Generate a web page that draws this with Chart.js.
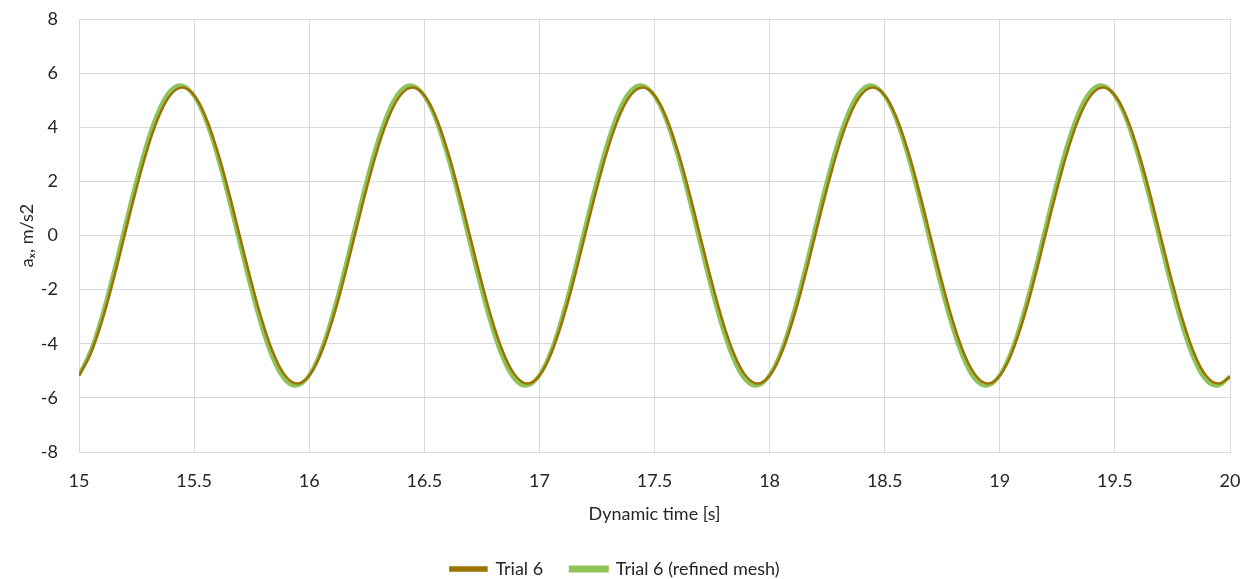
<!DOCTYPE html>
<html>
<head>
<meta charset="utf-8">
<script src="https://cdn.jsdelivr.net/npm/chart.js@4"></script>
<style>
    html, body { margin: 0; padding: 0; background: #ffffff; }
    #wrap { width: 1252px; height: 579px; }
</style>
</head>
<body>
<div id="wrap"><canvas id="accChart" width="1252" height="579"></canvas></div>
<script>
// time axis, 0.05 s steps from 15 to 20
const times = [
    15.00, 15.05, 15.10, 15.15, 15.20, 15.25, 15.30, 15.35, 15.40, 15.45,
    15.50, 15.55, 15.60, 15.65, 15.70, 15.75, 15.80, 15.85, 15.90, 15.95,
    16.00, 16.05, 16.10, 16.15, 16.20, 16.25, 16.30, 16.35, 16.40, 16.45,
    16.50, 16.55, 16.60, 16.65, 16.70, 16.75, 16.80, 16.85, 16.90, 16.95,
    17.00, 17.05, 17.10, 17.15, 17.20, 17.25, 17.30, 17.35, 17.40, 17.45,
    17.50, 17.55, 17.60, 17.65, 17.70, 17.75, 17.80, 17.85, 17.90, 17.95,
    18.00, 18.05, 18.10, 18.15, 18.20, 18.25, 18.30, 18.35, 18.40, 18.45,
    18.50, 18.55, 18.60, 18.65, 18.70, 18.75, 18.80, 18.85, 18.90, 18.95,
    19.00, 19.05, 19.10, 19.15, 19.20, 19.25, 19.30, 19.35, 19.40, 19.45,
    19.50, 19.55, 19.60, 19.65, 19.70, 19.75, 19.80, 19.85, 19.90, 19.95,
    20.00
];

// Trial 6
const trial6 = [
    -5.18, -4.39, -3.16, -1.63, 0.07, 1.75, 3.27, 4.46, 5.22, 5.47,
    5.18, 4.39, 3.16, 1.63, -0.07, -1.75, -3.27, -4.46, -5.22, -5.47,
    -5.18, -4.39, -3.16, -1.63, 0.07, 1.75, 3.27, 4.46, 5.22, 5.47,
    5.18, 4.39, 3.16, 1.63, -0.07, -1.75, -3.27, -4.46, -5.22, -5.47,
    -5.18, -4.39, -3.16, -1.63, 0.07, 1.75, 3.27, 4.46, 5.22, 5.47,
    5.18, 4.39, 3.16, 1.63, -0.07, -1.75, -3.27, -4.46, -5.22, -5.47,
    -5.18, -4.39, -3.16, -1.63, 0.07, 1.75, 3.27, 4.46, 5.22, 5.47,
    5.18, 4.39, 3.16, 1.63, -0.07, -1.75, -3.27, -4.46, -5.22, -5.47,
    -5.18, -4.39, -3.16, -1.63, 0.07, 1.75, 3.27, 4.46, 5.22, 5.47,
    5.18, 4.39, 3.16, 1.63, -0.07, -1.75, -3.27, -4.46, -5.22, -5.47,
    -5.22
];

// Trial 6 (refined mesh)
const trial6Refined = [
    -5.16, -4.28, -2.97, -1.38, 0.35, 2.04, 3.54, 4.69, 5.38, 5.54,
    5.16, 4.28, 2.97, 1.38, -0.35, -2.04, -3.54, -4.69, -5.38, -5.54,
    -5.16, -4.28, -2.97, -1.38, 0.35, 2.04, 3.54, 4.69, 5.38, 5.54,
    5.16, 4.28, 2.97, 1.38, -0.35, -2.04, -3.54, -4.69, -5.38, -5.54,
    -5.16, -4.28, -2.97, -1.38, 0.35, 2.04, 3.54, 4.69, 5.38, 5.54,
    5.16, 4.28, 2.97, 1.38, -0.35, -2.04, -3.54, -4.69, -5.38, -5.54,
    -5.16, -4.28, -2.97, -1.38, 0.35, 2.04, 3.54, 4.69, 5.38, 5.54,
    5.16, 4.28, 2.97, 1.38, -0.35, -2.04, -3.54, -4.69, -5.38, -5.54,
    -5.16, -4.28, -2.97, -1.38, 0.35, 2.04, 3.54, 4.69, 5.38, 5.54,
    5.16, 4.28, 2.97, 1.38, -0.35, -2.04, -3.54, -4.69, -5.38, -5.54,
    -5.20
];

const seriesNames = ["Trial 6", "Trial 6 (refined mesh)"];
const xTitle = "Dynamic time [s]";
const yTitle = "a\u2093, m/s2";

const brown = "#9c7300";
const green = "#8cc45a";
const gridColor = "#d9d9d9";
const textColor = "#262626";
const fontFamily = "Lato, 'Open Sans', sans-serif";
const fontSize = 18;

Chart.defaults.font.family = fontFamily;
Chart.defaults.color = textColor;

function toPoints(ys) {
    return times.map((t, i) => ({ x: t, y: ys[i] }));
}

const ctx = document.getElementById("accChart");

new Chart(ctx, {
    type: "line",
    data: {
        datasets: [
            {
                label: seriesNames[0],
                data: toPoints(trial6),
                borderColor: brown,
                backgroundColor: brown,
                borderWidth: 2.5,
                pointRadius: 0,
                tension: 0.4,
                order: 1
            },
            {
                label: seriesNames[1],
                data: toPoints(trial6Refined),
                borderColor: green,
                backgroundColor: green,
                borderWidth: 4,
                pointRadius: 0,
                tension: 0.4,
                order: 2
            }
        ]
    },
    options: {
        responsive: false,
        animation: false,
        layout: {
            autoPadding: false,
            // negative bottom pushes the legend closer to the lower edge
            padding: { top: 19, right: 22, left: 0, bottom: -9 }
        },
        plugins: {
            legend: {
                position: "bottom",
                labels: {
                    boxWidth: 36,
                    boxHeight: 3,
                    padding: 0,
                    font: { size: fontSize },
                    color: textColor,
                    // extra gap after the first entry, like the original legend
                    generateLabels: function (chart) {
                        const items = Chart.defaults.plugins.legend.labels.generateLabels(chart);
                        items[0].text = items[0].text + "      ";
                        return items;
                    }
                }
            },
            tooltip: { enabled: false }
        },
        scales: {
            x: {
                type: "linear",
                min: 15,
                max: 20,
                grid: { color: gridColor, drawTicks: false },
                border: { color: gridColor },
                ticks: {
                    stepSize: 0.5,
                    padding: 18,
                    font: { size: fontSize },
                    color: textColor,
                    callback: v => String(v)
                },
                title: {
                    display: true,
                    text: xTitle,
                    font: { size: fontSize },
                    color: textColor,
                    padding: { top: 0, bottom: 35 }
                },
                afterFit: scale => {
                    scale.height = 108;
                    scale.paddingLeft = 0;
                    scale.paddingRight = 0;
                }
            },
            y: {
                min: -8,
                max: 8,
                grid: { color: gridColor, drawTicks: false },
                border: { color: gridColor },
                ticks: {
                    stepSize: 2,
                    padding: 21,
                    font: { size: fontSize },
                    color: textColor
                },
                title: {
                    display: true,
                    text: yTitle,
                    font: { size: fontSize },
                    color: textColor,
                    padding: { top: 16, bottom: 0 }
                },
                afterFit: scale => {
                    scale.width = 79;
                    scale.paddingTop = 0;
                    scale.paddingBottom = 0;
                }
            }
        }
    }
});
</script>
</body>
</html>
